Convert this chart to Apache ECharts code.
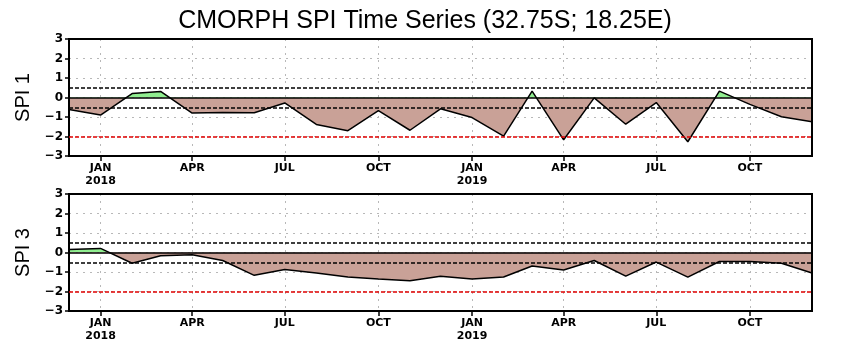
<!DOCTYPE html>
<html><head><meta charset="utf-8">
<script src="https://cdn.jsdelivr.net/npm/echarts@6/dist/echarts.min.js"></script>
<style>html,body{margin:0;padding:0;background:#fff}#c{width:850px;height:343px}</style>
</head><body><div id="c"></div>
<script>
const titleText = 'CMORPH SPI Time Series (32.75S; 18.25E)';
const panelNames = ['SPI 1', 'SPI 3'];
const months = ['2017-12-01','2018-01-01','2018-02-01','2018-03-01','2018-04-01','2018-05-01','2018-06-01',
  '2018-07-01','2018-08-01','2018-09-01','2018-10-01','2018-11-01','2018-12-01','2019-01-01','2019-02-01',
  '2019-03-01','2019-04-01','2019-05-01','2019-06-01','2019-07-01','2019-08-01','2019-09-01','2019-10-01',
  '2019-11-01','2019-12-01'];
const spi1 = [-0.62, -0.9, 0.2, 0.31, -0.8, -0.77, -0.78, -0.28, -1.38, -1.7, -0.67, -1.68, -0.58,
  -1.03, -1.98, 0.33, -2.17, -0.02, -1.37, -0.26, -2.27, 0.33, -0.35, -0.99, -1.24];
const spi3 = [0.15, 0.21, -0.55, -0.17, -0.12, -0.41, -1.17, -0.87, -1.05, -1.26, -1.36, -1.45, -1.22,
  -1.36, -1.26, -0.69, -0.9, -0.41, -1.21, -0.49, -1.26, -0.46, -0.46, -0.55, -1.05];
const tickDates = ['2018-01-01','2018-04-01','2018-07-01','2018-10-01','2019-01-01','2019-04-01','2019-07-01','2019-10-01'];
const xRange = ['2017-12-01', '2019-12-01'];
const monthNames = ['JAN','FEB','MAR','APR','MAY','JUN','JUL','AUG','SEP','OCT','NOV','DEC'];
const refLines = [0.5, -0.5, -2];

function ts(s){ const p = s.split('-'); return Date.UTC(+p[0], +p[1]-1, +p[2]); }
const tickVals = tickDates.map(ts);
const seriesVals = [spi1, spi3];

const BROWN = '#c9a197', GREEN = '#90ee90';
const grids = [{top:39}, {top:194}].map(g => ({
  left:69, width:743, top:g.top, height:117, show:true, z:5,
  backgroundColor:'transparent', borderColor:'#000', borderWidth:2
}));

const xAxes = grids.map((g,i) => ({
  type:'value', gridIndex:i, min:ts(xRange[0]), max:ts(xRange[1]),
  axisLine:{show:false, onZero:false},
  axisTick:{show:true, customValues:tickVals, length:5, lineStyle:{color:'#000', width:1.5}},
  axisLabel:{customValues:tickVals, color:'#000', fontWeight:'bold', fontSize:11, lineHeight:13,
    fontFamily:'DejaVu Sans', margin:6,
    formatter: v => { const d = new Date(v); const m = monthNames[d.getUTCMonth()];
      return d.getUTCMonth() === 0 ? m + '\n' + d.getUTCFullYear() : m; }},
  splitLine:{show:true, lineStyle:{type:[2,5], color:'#b8b8b8', width:1}}
}));

const yAxes = grids.map((g,i) => ({
  type:'value', gridIndex:i, min:-3, max:3, interval:1,
  name:panelNames[i], nameLocation:'middle', nameGap:36,
  nameTextStyle:{fontSize:20, color:'#000', fontFamily:'Liberation Sans'},
  axisLine:{show:true, lineStyle:{color:'#000', width:2}},
  axisTick:{show:true, length:4, lineStyle:{color:'#000', width:1.5}},
  axisLabel:{color:'#000', fontWeight:'bold', fontSize:12, fontFamily:'DejaVu Sans', margin:6,
    formatter: v => v < 0 ? '\u2212' + (-v) : String(v)},
  splitLine:{show:true, lineStyle:{type:[2,5], color:'#b8b8b8', width:1}}
}));

const series = seriesVals.map((vals,i) => ({
  type:'line', xAxisIndex:i, yAxisIndex:i, showSymbol:false, symbol:'none',
  data: months.map((m,k) => [ts(m), vals[k]]),
  lineStyle:{color:'#000', width:1.5},
  areaStyle:{opacity:1},
  markLine:{silent:true, symbol:['none','none'], label:{show:false}, animation:false,
    data:[
      {yAxis:0, lineStyle:{color:'#000', type:'solid', width:1.5}},
      {yAxis:refLines[0], lineStyle:{color:'#000', type:[4,2], width:1.5}},
      {yAxis:refLines[1], lineStyle:{color:'#000', type:[4,2], width:1.5}},
      {yAxis:refLines[2], lineStyle:{color:'#e00000', type:[4,2], width:1.5}}
    ]}
}));

const chart = echarts.init(document.getElementById('c'), null, {renderer:'canvas'});
chart.setOption({
  animation:false,
  backgroundColor:'#fff',
  title:{text:titleText, left:'center', top:4,
    textStyle:{fontSize:25, fontWeight:'normal', color:'#000', fontFamily:'Liberation Sans'}},
  grid:grids, xAxis:xAxes, yAxis:yAxes,
  visualMap: seriesVals.map((v,i) => ({type:'piecewise', show:false, seriesIndex:i, dimension:1,
    pieces:[{min:-10, max:0, color:BROWN},{min:0, max:10, color:GREEN}]})),
  series:series
});
</script></body></html>
